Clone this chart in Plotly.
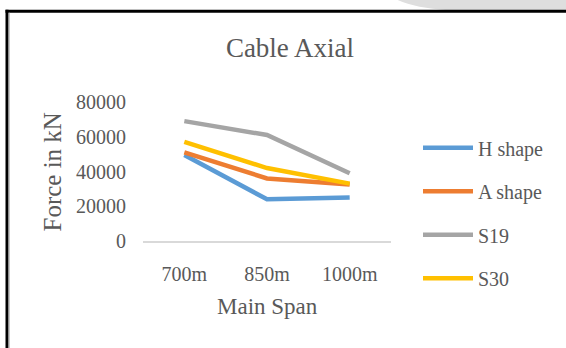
import plotly.graph_objects as go

# Cable axial force by main span
spans = ["700m", "850m", "1000m"]
h_shape = [49500, 24000, 25000]
a_shape = [51000, 36000, 32500]
s19 = [69000, 61000, 39000]
s30 = [57000, 42000, 33000]

series_names = ["H shape", "A shape", "S19", "S30"]
series_values = [h_shape, a_shape, s19, s30]
series_colors = ["#5B9BD5", "#ED7D31", "#A5A5A5", "#FFC000"]

y_ticks = [0, 20000, 40000, 60000, 80000]

W, H = 566, 348
PLOT_L, PLOT_R = 143, 391
PLOT_T, PLOT_B = 101.5, 241.5
FONT = "Liberation Serif, Times New Roman, serif"
TXT = "#595959"


def px_x(px):
    return (px - PLOT_L) / (PLOT_R - PLOT_L)


def px_y(py):
    return (PLOT_B - py) / (PLOT_B - PLOT_T)


fig = go.Figure()
for i, (name, vals, col) in enumerate(zip(series_names, series_values, series_colors)):
    fig.add_trace(go.Scatter(
        x=spans, y=vals, name=name, mode="lines",
        line=dict(color=col, width=4.5),
        legendgroup=f"g{i}",
    ))

shapes = [
    # grey band across the top right
    dict(type="path", xref="paper", yref="paper", layer="below",
         path=(f"M{px_x(396)},{px_y(-2)} L{px_x(570)},{px_y(-2)} "
               f"L{px_x(570)},{px_y(9)} L{px_x(448)},{px_y(9)} "
               f"Q{px_x(415)},{px_y(7)} {px_x(396)},{px_y(-2)} Z"),
         fillcolor="#DEDEDE", line=dict(width=0)),
    # frame: top and left edges
    dict(type="line", xref="paper", yref="paper",
         x0=px_x(5.5), x1=px_x(570), y0=px_y(10), y1=px_y(10),
         line=dict(color="black", width=3)),
    dict(type="line", xref="paper", yref="paper",
         x0=px_x(7), x1=px_x(7), y0=px_y(8.5), y1=px_y(352),
         line=dict(color="black", width=3)),
    dict(type="line", xref="paper", yref="paper",
         x0=px_x(9.2), x1=px_x(9.2), y0=px_y(11.5), y1=px_y(352),
         line=dict(color="#B0B0B0", width=1)),
]

annotations = [
    dict(text="Force in kN", xref="paper", yref="paper",
         x=px_x(52), y=px_y(172.5), textangle=-90, showarrow=False,
         xanchor="center", yanchor="middle",
         font=dict(family=FONT, size=25, color=TXT)),
    dict(text="Main Span", xref="paper", yref="paper",
         x=px_x(267.5), y=px_y(307), showarrow=False,
         xanchor="center", yanchor="middle",
         font=dict(family=FONT, size=23, color=TXT)),
]

fig.update_layout(
    width=W, height=H,
    margin=dict(l=PLOT_L, r=W - PLOT_R, t=PLOT_T, b=H - PLOT_B, pad=0),
    paper_bgcolor="white", plot_bgcolor="white",
    title=dict(text="Cable Axial", xref="container", yref="container",
               x=290 / W, y=1 - 48 / H, xanchor="center", yanchor="middle",
               font=dict(family=FONT, size=27, color=TXT)),
    xaxis=dict(range=[-0.5, 2.5], showgrid=False, zeroline=False,
               showline=True, linecolor="#D9D9D9", linewidth=1.5,
               ticks="", ticklabelstandoff=14,
               tickfont=dict(family=FONT, size=20, color=TXT)),
    yaxis=dict(range=[0, 80000], tickvals=y_ticks, tickformat="d",
               showgrid=False, zeroline=False, showline=False, ticks="",
               ticklabelstandoff=16,
               tickfont=dict(family=FONT, size=20, color=TXT)),
    legend=dict(x=px_x(418), y=px_y(128), xanchor="left", yanchor="top",
                font=dict(family=FONT, size=20, color=TXT),
                tracegroupgap=14.5, itemwidth=50, maxheight=400,
                bgcolor="rgba(0,0,0,0)"),
    shapes=shapes,
    annotations=annotations,
)

fig.write_html("out.html")
